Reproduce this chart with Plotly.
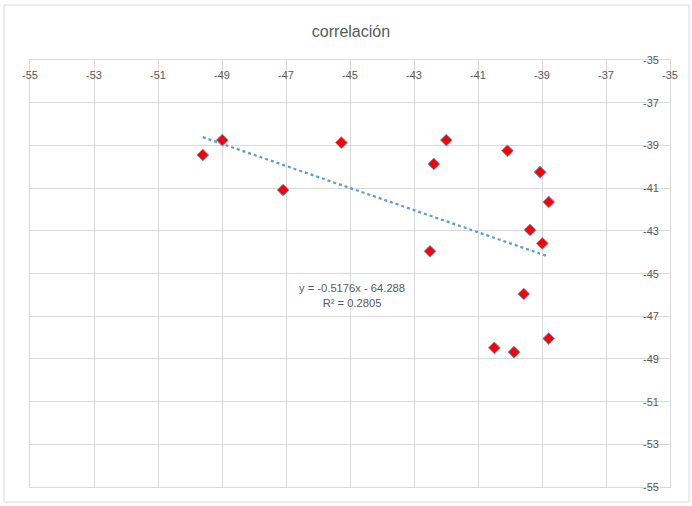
import plotly.graph_objects as go

# Data
x_vals = [-49.60, -48.99, -47.09, -45.27, -41.99, -42.38, -42.50, -40.08,
          -39.06, -38.79, -39.375, -38.99, -39.57, -40.49, -39.875, -38.79]
y_vals = [-39.45, -38.75, -41.09, -38.87, -38.75, -39.87, -43.96, -39.25,
          -40.25, -41.65, -42.96, -43.59, -45.96, -48.48, -48.68, -48.05]

trend_slope = -0.5176
trend_intercept = -64.288
trend_r2 = 0.2805

x_ticks = list(range(-55, -34, 2))
y_ticks = list(range(-55, -34, 2))
x_tick_labels = [str(v) for v in x_ticks]
y_tick_labels = [str(v) for v in y_ticks]

title_text = "correlación"
eq_text = "y = -0.5176x - 64.288<br>R² = 0.2805"

font_family = "Liberation Sans, Arial, sans-serif"
text_color = "#595959"
grid_color = "#D9D9D9"

x_min, x_max = min(x_vals), max(x_vals)
trend_x = [x_min, x_max]
trend_y = [trend_slope * v + trend_intercept for v in trend_x]

fig = go.Figure()
fig.add_trace(go.Scatter(
    x=trend_x, y=trend_y, mode="lines",
    line=dict(color="#5B9BD5", width=2.25, dash="dot"),
    hoverinfo="skip", showlegend=False,
))
fig.add_trace(go.Scatter(
    x=x_vals, y=y_vals, mode="markers",
    marker=dict(symbol="diamond", size=9, color="#FF0000",
                line=dict(color="#5B9BD5", width=1)),
    showlegend=False,
))

fig.add_annotation(
    x=-44.95, y=-46.05, xref="x", yref="y", text=eq_text, showarrow=False,
    font=dict(family=font_family, size=11.2, color=text_color), align="center",
)

# tick labels (hyphen minus, drawn inside the plot area like the reference)
for v, t in zip(x_ticks, x_tick_labels):
    fig.add_annotation(x=v, y=1, xref="x", yref="paper", text=t, showarrow=False,
                       xanchor="center", yanchor="middle", yshift=-15,
                       font=dict(family=font_family, size=11, color=text_color))
for v, t in zip(y_ticks, y_tick_labels):
    fig.add_annotation(x=1, y=v, xref="paper", yref="y", text=t, showarrow=False,
                       xanchor="right", yanchor="middle", xshift=-9,
                       font=dict(family=font_family, size=11, color=text_color))

fig.add_shape(type="rect", xref="paper", yref="paper",
              x0=-0.0406, x1=1.0297, y0=-0.0351, y1=1.1288,
              line=dict(color="#D9D9D9", width=1), layer="below")

fig.update_layout(
    width=692, height=506,
    margin=dict(l=30, r=22, t=60, b=19),
    paper_bgcolor="white", plot_bgcolor="white",
    title=dict(text=title_text, x=351 / 692, xanchor="center", y=1 - 31 / 506, yanchor="middle",
               font=dict(family=font_family, size=16, color=text_color)),
    font=dict(family=font_family, size=11, color=text_color),
    xaxis=dict(range=[-55, -35], tickvals=x_ticks, side="top", showticklabels=False,
               showgrid=True, gridcolor=grid_color, automargin=False,
               gridwidth=1, zeroline=False, showline=True, linecolor=grid_color,
               mirror=True, ticks=""),
    yaxis=dict(range=[-55, -35], tickvals=y_ticks, side="right", showticklabels=False,
               showgrid=True, gridcolor=grid_color, automargin=False,
               gridwidth=1, zeroline=False, showline=True, linecolor=grid_color,
               mirror=True, ticks=""),
)

fig.write_html("out.html", config={"displayModeBar": False},
               post_script="document.body.style.margin='0';")
